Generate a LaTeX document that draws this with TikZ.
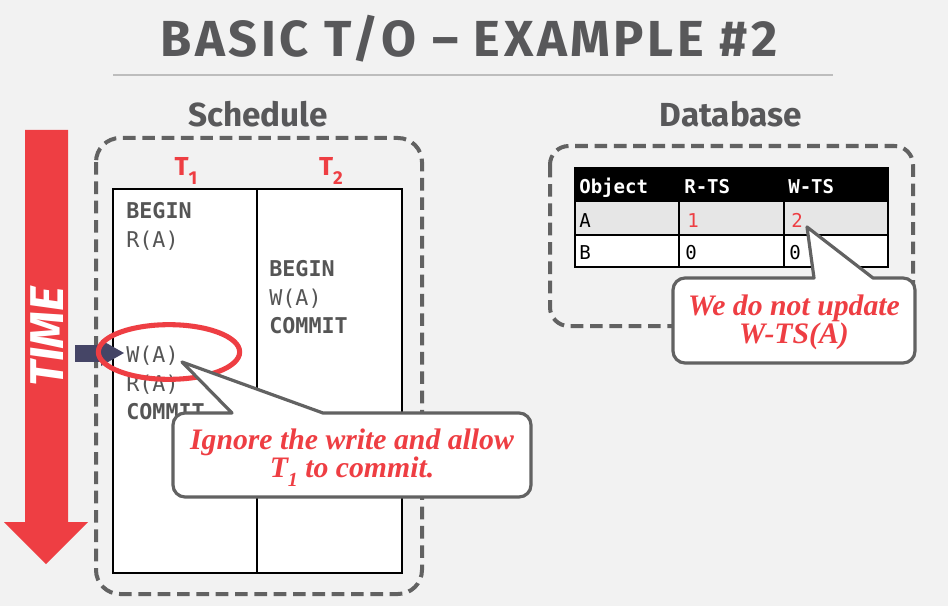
\documentclass[tikz,border=0pt]{standalone}
\usepackage{fontspec}
\setmainfont{Liberation Serif}
\newfontfamily\headfont{Fira Sans}
\newfontfamily\titlefont[LetterSpace=7]{Fira Sans}
\newfontfamily\codefont{DejaVu Sans Mono}
\newfontfamily\notefont{Liberation Serif}

\definecolor{bgcol}{HTML}{F2F2F2}
\definecolor{inkgray}{HTML}{58585A}
\definecolor{rulegray}{HTML}{BDBDBD}
\definecolor{dashgray}{HTML}{626262}
\definecolor{alertred}{HTML}{EE3E43}
\definecolor{navy}{HTML}{454566}
\definecolor{rowgray}{HTML}{E6E6E6}
\definecolor{codegray}{HTML}{555555}

\newcommand{\tsub}[1]{\raisebox{-0.35em}{\fontsize{14}{14}\selectfont #1}}
\newcommand{\nsub}[1]{\raisebox{-0.3em}{\fontsize{15}{15}\selectfont #1}}

\begin{document}
\begin{tikzpicture}[x=0.75pt,y=-0.75pt,
  heading/.style={anchor=base, text=inkgray, font=\headfont\bfseries\fontsize{25}{28}\selectfont},
  txlabel/.style={anchor=base, text=alertred, font=\headfont\bfseries\fontsize{19.5}{21}\selectfont},
  opbold/.style={anchor=base west, inner sep=0pt, text=codegray, font=\codefont\bfseries\fontsize{16.3}{18}\selectfont},
  opplain/.style={anchor=base west, inner sep=0pt, text=codegray, font=\codefont\fontsize{16.3}{18}\selectfont},
  cell/.style={anchor=base west, inner sep=0pt, font=\codefont\fontsize{14.3}{16}\selectfont},
  headcell/.style={cell, text=white, font=\codefont\bfseries\fontsize{14.3}{16}\selectfont},
  dashbox/.style={draw=dashgray, line width=3pt, dash pattern=on 9.5pt off 5pt},
  callout/.style={draw=dashgray, fill=white, line width=2.4pt, line join=round},
  note/.style={align=center, text=alertred, font=\notefont\bfseries\itshape\fontsize{22.3}{24}\selectfont}
]
% canvas
\fill[bgcol] (0,0) rectangle (948,606);
\useasboundingbox (0,0) rectangle (948,606);

% title and rule
\node[anchor=base, text=inkgray, font=\titlefont\bfseries\fontsize{38}{40}\selectfont] (title) at (469,57) {BASIC T/O – EXAMPLE \#2};
\draw[rulegray, line width=2.2pt] (113,75) -- (833,75);

% section headings
\node[heading] (schedhead) at (258,127) {Schedule};
\node[heading] (dbhead) at (731,127) {Database};

% time arrow
\fill[alertred] (25,130) -- (68,130) -- (68,522) -- (88,522) -- (46,564) -- (4,522) -- (25,522) -- cycle;
\node[rotate=90, text=white, font=\headfont\bfseries\itshape\fontsize{35.5}{37}\selectfont] (time) at (47,337) {TIME};

% schedule frame and table
\draw[dashbox, rounded corners=18pt] (96,138) rectangle (422,594);
\draw[fill=white, line width=0.8pt] (113,189) rectangle (402,573);
\draw[line width=0.8pt] (257,189) -- (257,573);

\node[txlabel] (t1) at (186,175) {T\tsub{1}};
\node[txlabel] (t2) at (331,175) {T\tsub{2}};

% T1 operations
\node[opbold]  (b1) at (126,218) {BEGIN};
\node[opplain] (r1) at (126,247) {R(A)};
\node[opplain] (w1) at (126,362) {W(A)};
\node[opplain] (r1b) at (126,391) {R(A)};
\node[opbold]  (c1) at (126,419) {COMMIT};
% T2 operations
\node[opbold]  (b2) at (269,276) {BEGIN};
\node[opplain] (w2) at (269,305) {W(A)};
\node[opbold]  (c2) at (269,333) {COMMIT};

% current-step marker
\fill[navy] (75,345) rectangle (103,362);
\fill[navy] (101,340) -- (124,353) -- (101,366) -- cycle;

% highlight around the ignored write
\draw[alertred, line width=3.8pt] (169,352) ellipse [x radius=53pt, y radius=20.5pt];

% callout on the schedule
\draw[callout] (323,413) [rounded corners=9pt] -- (531,413) -- (531,497) -- (173,497) -- (173,413) [sharp corners] -- (232,413) -- (182,362) -- cycle;
\node[note] (note1) at (352,458) {Ignore the write and allow\\[-3pt]T\nsub{1} to commit.};

% database frame and table
\draw[dashbox, rounded corners=14pt] (550,146) rectangle (913,326);
\fill[black] (575,168) rectangle (888,202);
\fill[rowgray] (575,202) rectangle (888,235);
\fill[white] (575,235) rectangle (888,267);
\draw[line width=1.4pt] (575,168) rectangle (888,267);
\draw[line width=1.4pt] (575,235) -- (888,235);
\draw[line width=1.2pt] (679,202) -- (679,267);
\draw[line width=1.2pt] (784,202) -- (784,267);

\node[headcell] (hobj) at (579,193) {Object};
\node[headcell] (hrts) at (684,193) {R-TS};
\node[headcell] (hwts) at (788,193) {W-TS};
\node[cell] (ka) at (579,227) {A};
\node[cell, text=alertred] (ra) at (687,227) {1};
\node[cell, text=alertred] (wa) at (791,227) {2};
\node[cell] (kb) at (579,259) {B};
\node[cell] (rb) at (685,259) {0};
\node[cell] (wb) at (789,259) {0};

% callout on the table
\draw[callout] (873,278) [rounded corners=9pt] -- (915,278) -- (915,363) -- (673,363) -- (673,278) [sharp corners] -- (814,278) -- (807,227) -- cycle;
\node[note] (note2) at (794,322) {We do not update\\[-3pt]W-TS(A)};
\end{tikzpicture}
\end{document}
